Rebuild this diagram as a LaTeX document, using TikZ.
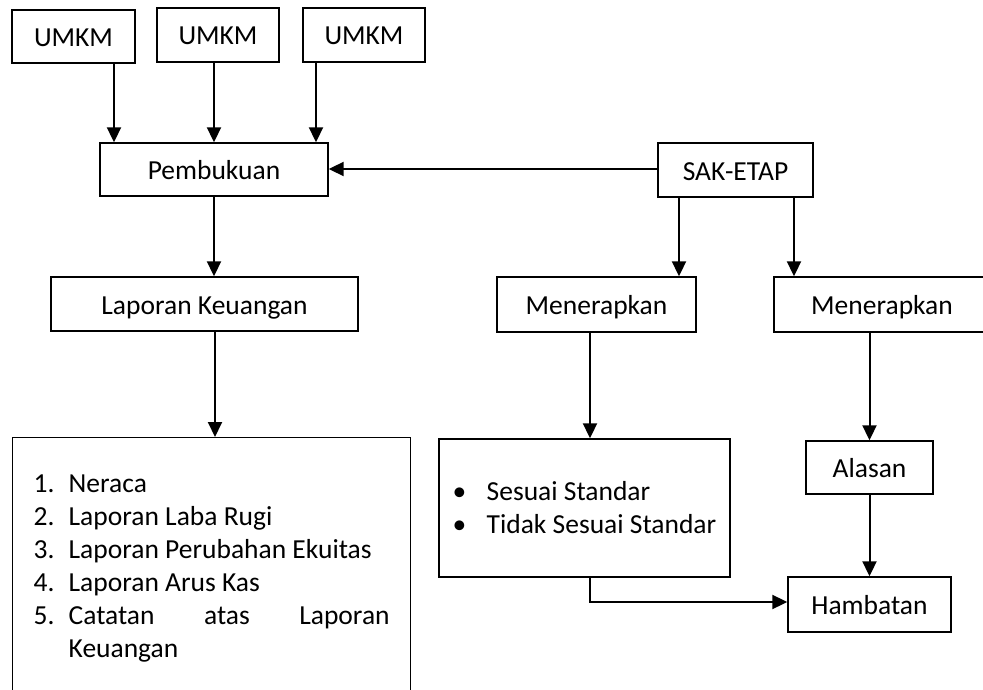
\documentclass[tikz,border=0pt]{standalone}
\usepackage{fontspec}
\setmainfont{Carlito}
\usepackage{tikz}
\usetikzlibrary{
    positioning,
    arrows.meta,
    calc
}
\definecolor{lineBlack}{RGB}{0, 0, 0}

\tikzset{
    box/.style={draw=lineBlack, line width=1.4pt, inner sep=0pt,
        text height=23pt, text depth=3pt,
        font=\fontsize{27.5}{33}\selectfont},
    listbox/.style={draw=lineBlack, line width=1.4pt, align=left,
        font=\fontsize{27.5}{33}\selectfont},
    arr/.style={-{Triangle[length=15pt, width=14pt]}, line width=2pt, lineBlack}
}

\begin{document}
\begin{tikzpicture}[x=1pt, y=-1pt]
    \useasboundingbox (0,0) rectangle (983,690);

    % UMKM di atas
    \node[box, minimum width=123pt, minimum height=53pt] (umkmA) at (73.5,36.5) {UMKM};
    \node[box, minimum width=122pt, minimum height=54pt] (umkmB) at (218,35) {UMKM};
    \node[box, minimum width=122pt, minimum height=54pt] (umkmC) at (364,35) {UMKM};

    % baris kedua
    \node[box, minimum width=228pt, minimum height=53pt] (pemb) at (214,169.5) {Pembukuan};
    \node[box, minimum width=155pt, minimum height=54pt] (sak) at (735.5,170) {SAK-ETAP};

    % baris ketiga
    \node[box, minimum width=307pt, minimum height=54pt] (lapKeu) at (204.5,304) {Laporan Keuangan};
    \node[box, minimum width=199pt, minimum height=55pt] (terapA) at (596.5,304.5) {Menerapkan};
    \node[box, minimum width=216pt, minimum height=55pt] (terapB) at (882,304.5) {Menerapkan};

    % daftar laporan
    \node[listbox, anchor=north west, inner xsep=21pt, inner ysep=36.6pt, text width=356pt]
        (daftar) at (12,437) {\spaceskip=0pt\xspaceskip=0pt
        \makebox[35pt][l]{1.}Neraca\\
        \makebox[35pt][l]{2.}Laporan Laba Rugi\\
        \makebox[35pt][l]{3.}Laporan Perubahan Ekuitas\\
        \makebox[35pt][l]{4.}Laporan Arus Kas\\
        \makebox[35pt][l]{5.}\makebox[321pt][s]{Catatan atas Laporan}\\
        \hspace*{35pt}Keuangan};

    \node[listbox, inner sep=0pt, minimum width=291pt, minimum height=138pt]
        (sesuai) at (584.5,508) {\spaceskip=0pt\xspaceskip=0pt
        \makebox[34pt][l]{\textbullet}Sesuai Standar\\
        \makebox[34pt][l]{\textbullet}Tidak Sesuai Standar};

    \node[box, minimum width=127pt, minimum height=53pt] (alasan) at (869.5,467.5) {Alasan};
    \node[box, minimum width=163pt, minimum height=55pt] (hambat) at (869.5,604.5) {Hambatan};

    % panah
    \draw[arr] ([xshift=40.5pt]umkmA.south) -- ([xshift=40.5pt]umkmA.south |- pemb.north);
    \draw[arr] (umkmB.south -| pemb.north) -- (pemb.north);
    \draw[arr] ([xshift=-48pt]umkmC.south) -- ([xshift=-48pt]umkmC.south |- pemb.north);
    \draw[arr] ([yshift=1pt]sak.west) -- ([yshift=1pt]sak.west -| pemb.east);
    \draw[arr] (pemb.south) -- (pemb.south |- lapKeu.north);
    \draw[arr] ([xshift=10.5pt]lapKeu.south) -- ([xshift=10.5pt]lapKeu.south |- daftar.north);
    \draw[arr] ([xshift=-56.5pt]sak.south) -- ([xshift=-56.5pt]sak.south |- terapA.north);
    \draw[arr] ([xshift=58.5pt]sak.south) -- ([xshift=58.5pt]sak.south |- terapB.north);
    \draw[arr] ([xshift=-6.5pt]terapA.south) -- ([xshift=-6.5pt]terapA.south |- sesuai.north);
    \draw[arr] (terapB.south -| alasan.north) -- (alasan.north);
    \draw[arr] (alasan.south) -- (hambat.north);
    \draw[arr] ([xshift=5.5pt]sesuai.south) |- ([yshift=2.5pt]hambat.west);
\end{tikzpicture}
\end{document}
